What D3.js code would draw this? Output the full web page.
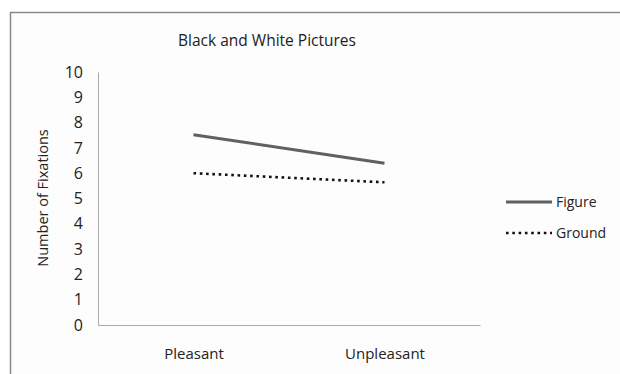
<!DOCTYPE html>
<html>
<head>
<meta charset="utf-8">
<script src="https://cdn.jsdelivr.net/npm/d3@7"></script>
<style>
  body { margin: 0; background: #fff; }
  text { font-family: "Open Sans", sans-serif; fill: #222; }
</style>
</head>
<body>
<div id="chart"></div>
<script>
let width = 620,
    height = 374,
    margin = ({ top: 72, right: 140, bottom: 49, left: 98 }); // plot area inside the frame

const categories = ["Pleasant", "Unpleasant"];
const figure = [7.52, 6.39];
const ground = [6.0, 5.64];
const yTicks = [0, 1, 2, 3, 4, 5, 6, 7, 8, 9, 10];

const series = [
  { name: "Figure", values: figure, color: "#606060", width: 3, dash: null },
  { name: "Ground", values: ground, color: "#111", width: 2.6, dash: "2.6,3.7" }
];

const svg = d3.select("#chart")
  .append("svg")
  .attr("width", width)
  .attr("height", height);

// outer chart frame (cut off at right and bottom)
svg.append("rect")
  .attr("x", 10.5).attr("y", 12.5)
  .attr("width", 700).attr("height", 500)
  .attr("fill", "#fdfdfd")
  .attr("stroke", "#8a8a8a")
  .attr("stroke-width", 1.5);

let x = d3.scalePoint()
  .domain(categories)
  .range([margin.left, width - margin.right])
  .padding(0.5);

let y = d3.scaleLinear()
  .domain([0, 10])
  .range([height - margin.bottom, margin.top]);

// axes
const xAxis = svg.append("g")
  .attr("transform", `translate(0,${height - margin.bottom})`)
  .call(d3.axisBottom(x).tickSize(0).tickPadding(23));
xAxis.select(".domain").attr("stroke", "#aaa");
xAxis.selectAll("text").style("font-size", "15px").attr("fill", "#222");

const yAxis = svg.append("g")
  .attr("transform", `translate(${margin.left},0)`)
  .call(d3.axisLeft(y).tickValues(yTicks).tickSize(0).tickPadding(15));
yAxis.select(".domain").attr("stroke", "#aaa");
yAxis.selectAll("text").style("font-size", "16px").attr("fill", "#222");

// title
svg.append("text")
  .attr("x", 267).attr("y", 46)
  .attr("text-anchor", "middle")
  .style("font-size", "15.5px")
  .text("Black and White Pictures");

// y-axis title
svg.append("text")
  .attr("transform", `translate(48,198) rotate(-90)`)
  .attr("text-anchor", "middle")
  .style("font-size", "14.5px")
  .text("Number of Fixations");

// lines
const line = d3.line()
  .x((d, i) => x(categories[i]))
  .y(d => y(d));

svg.append("g")
  .selectAll("path")
  .data(series)
  .join("path")
  .attr("d", d => line(d.values))
  .attr("fill", "none")
  .attr("stroke", d => d.color)
  .attr("stroke-width", d => d.width)
  .attr("stroke-dasharray", d => d.dash);

// legend
const legend = svg.append("g")
  .selectAll("g")
  .data(series)
  .join("g")
  .attr("transform", (d, i) => `translate(506,${202 + i * 31})`);

legend.append("line")
  .attr("x1", 0).attr("x2", 46)
  .attr("stroke", d => d.color)
  .attr("stroke-width", d => d.width)
  .attr("stroke-dasharray", d => d.dash);

legend.append("text")
  .attr("x", 50).attr("y", 5)
  .style("font-size", "14px")
  .text(d => d.name);
</script>
</body>
</html>
